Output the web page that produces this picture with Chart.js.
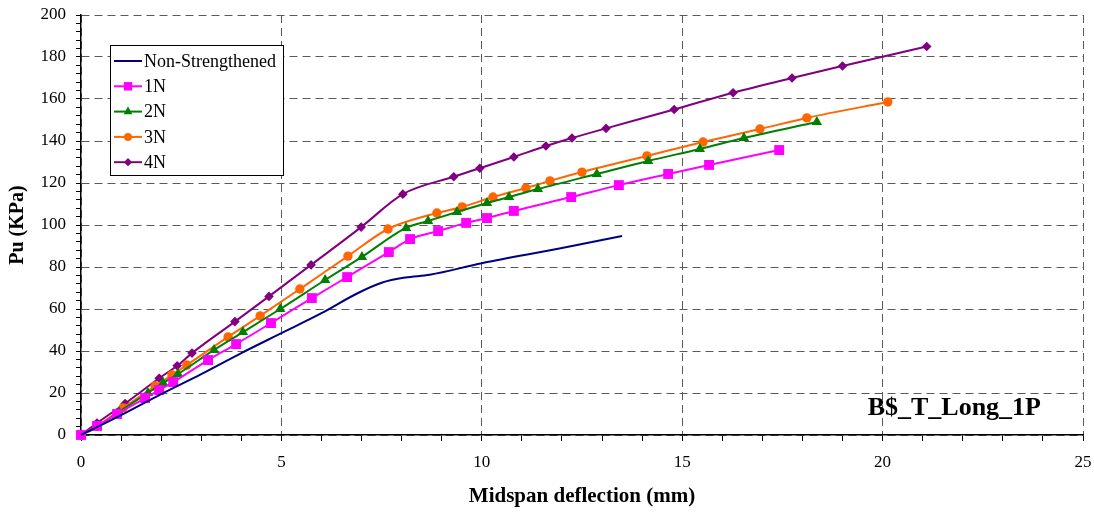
<!DOCTYPE html>
<html>
<head>
<meta charset="utf-8">
<script src="https://cdn.jsdelivr.net/npm/chart.js@4"></script>
<style>
  body { margin: 0; background: #fff; }
  #wrap { width: 1094px; height: 513px; }
</style>
</head>
<body>
<div id="wrap"><canvas id="chart"></canvas></div>
<script>
// Series data: midspan deflection (mm) and Pu (KPa)
const seriesNames = ['Non-Strengthened', '1N', '2N', '3N', '4N'];

const nonX = [0, 1, 2, 3, 4, 5, 6, 6.9, 7.5, 8.1, 8.7, 10, 12, 13.5];
const nonY = [0, 9.5, 19.5, 29, 39, 48.5, 58, 67.5, 72.5, 75, 76.3, 81.8, 89, 94.8];

const n1X = [0, 0.4, 0.9, 1.6, 1.95, 2.3, 3.17, 3.87, 4.74, 5.76, 6.64, 7.68, 8.21, 8.91, 9.61, 10.13, 10.8, 12.23, 13.42, 14.65, 15.67, 17.42];
const n1Y = [0, 4.3, 10, 17.6, 21.4, 25.2, 35.7, 43.3, 53.3, 65.2, 75.2, 87.1, 93.3, 97.1, 101, 103.3, 106.7, 113.3, 119, 124.3, 128.6, 135.7];

const n2X = [0, 0.4, 0.95, 1.67, 2.05, 2.42, 3.32, 4.04, 4.97, 6.09, 7.01, 8.11, 8.66, 9.38, 10.13, 10.68, 11.4, 12.87, 14.15, 15.44, 16.54, 18.36];
const n2Y = [0, 3.8, 11, 20, 24.8, 29, 40.5, 49, 60, 73.8, 84.8, 98.6, 101.9, 106.2, 110.5, 113.3, 117.1, 124.3, 130.5, 136.2, 141.4, 149];

const n3X = [0, 0.4, 1.05, 1.85, 2.27, 2.64, 3.67, 4.47, 5.46, 6.66, 7.66, 8.88, 9.51, 10.28, 11.1, 11.7, 12.5, 14.12, 15.52, 16.94, 18.11, 20.13];
const n3Y = [0, 4.3, 12.9, 23.3, 28.6, 33.3, 46.7, 56.7, 69.5, 85.2, 98.1, 105.7, 108.6, 113.3, 117.6, 121, 125.2, 132.9, 139.5, 145.7, 151, 158.6];

const n4X = [0, 0.4, 1.1, 1.95, 2.4, 2.77, 3.84, 4.69, 5.74, 6.99, 8.03, 9.3, 9.95, 10.8, 11.6, 12.25, 13.1, 14.8, 16.27, 17.74, 19.0, 21.1];
const n4Y = [0, 5.7, 15, 27, 33, 39, 54, 66, 81, 99, 114.7, 123, 127, 132.4, 137.6, 141.4, 146, 155, 163, 170, 175.7, 185];

// Axis ticks
const xMin = 0, xMax = 25, xMinorStep = 1, xMajorStep = 5;
const yMin = 0, yMax = 200, yMinorStep = 4, yMajorStep = 20;

const chartTitle = 'B$_T_Long_1P';

function pts(xs, ys) {
    return xs.map((x, i) => ({ x: x, y: ys[i] }));
}

const serif = "'Liberation Serif', 'Times New Roman', serif";

const datasets = [
    { label: seriesNames[0], data: pts(nonX, nonY), borderColor: '#000080', backgroundColor: '#000080', pointRadius: 0, pointStyle: false },
    { label: seriesNames[1], data: pts(n1X, n1Y), borderColor: '#FF00FF', backgroundColor: '#FF00FF', pointStyle: 'rect', pointRadius: 7 },
    { label: seriesNames[2], data: pts(n2X, n2Y), borderColor: '#008000', backgroundColor: '#008000', pointStyle: 'triangle', pointRadius: 6 },
    { label: seriesNames[3], data: pts(n3X, n3Y), borderColor: '#FF6600', backgroundColor: '#FF6600', pointStyle: 'circle', pointRadius: 4.7 },
    { label: seriesNames[4], data: pts(n4X, n4Y), borderColor: '#800080', backgroundColor: '#800080', pointStyle: 'rectRot', pointRadius: 4.8 }
].map(d => Object.assign({
    borderWidth: 2,
    pointBorderWidth: 0,
    cubicInterpolationMode: 'monotone',
    clip: false
}, d));

// Legend box drawn inside the plot area
const boxLegend = {
    id: 'boxLegend',
    afterDraw(chart) {
        const ctx = chart.ctx;
        const area = chart.chartArea;
        const left = area.left + 29, top = area.top + 30, w = 173, h = 130;
        ctx.save();
        ctx.fillStyle = '#fff';
        ctx.fillRect(left, top, w, h);
        ctx.strokeStyle = '#000';
        ctx.lineWidth = 1;
        ctx.strokeRect(left + 0.5, top + 0.5, w, h);
        ctx.font = '18px ' + serif;
        ctx.textBaseline = 'middle';
        chart.data.datasets.forEach((ds, i) => {
            const y = top + 16 + i * 25.3;
            ctx.strokeStyle = ds.borderColor;
            ctx.lineWidth = 2;
            ctx.beginPath();
            ctx.moveTo(left + 4, y);
            ctx.lineTo(left + 32, y);
            ctx.stroke();
            if (ds.pointStyle && Chart.helpers && Chart.helpers.drawPoint) {
                ctx.fillStyle = ds.backgroundColor;
                Chart.helpers.drawPoint(ctx, { pointStyle: ds.pointStyle, radius: ds.pointRadius * 0.85, rotation: 0, borderWidth: 0 }, left + 18, y);
            }
            ctx.fillStyle = '#000';
            ctx.fillText(ds.label, left + 34, y + 1);
        });
        ctx.restore();
    }
};

// Series tag in the lower right corner
const cornerTag = {
    id: 'cornerTag',
    afterDraw(chart) {
        const ctx = chart.ctx;
        const area = chart.chartArea;
        ctx.save();
        ctx.font = 'bold 26px ' + serif;
        ctx.fillStyle = '#000';
        ctx.textAlign = 'right';
        ctx.textBaseline = 'middle';
        ctx.fillText(chartTitle, area.right - 42, area.bottom - 27);
        ctx.restore();
    }
};

const whiteBg = {
    id: 'whiteBg',
    beforeDraw(chart) {
        const ctx = chart.ctx;
        ctx.save();
        ctx.fillStyle = '#fff';
        ctx.fillRect(0, 0, chart.width, chart.height);
        ctx.restore();
    }
};

function isMajor(v, step) {
    return Math.abs(v / step - Math.round(v / step)) < 1e-6;
}

new Chart(document.getElementById('chart'), {
    type: 'line',
    data: { datasets: datasets },
    plugins: [whiteBg, boxLegend, cornerTag],
    options: {
        responsive: true,
        maintainAspectRatio: false,
        animation: false,
        layout: { padding: { left: 0, right: 11, top: 15, bottom: 0 } },
        plugins: {
            legend: { display: false },
            tooltip: { enabled: false }
        },
        scales: {
            x: {
                type: 'linear',
                min: xMin,
                max: xMax,
                afterFit: s => { s.paddingRight = 0; s.paddingLeft = 0; },
                ticks: {
                    stepSize: xMinorStep,
                    autoSkip: false,
                    maxRotation: 0,
                    padding: 11,
                    color: '#000',
                    font: { family: serif, size: 17 },
                    callback: v => isMajor(v, xMajorStep) ? v : ''
                },
                grid: {
                    color: c => isMajor(c.tick.value, xMajorStep) ? '#5a5a5a' : 'rgba(0,0,0,0)',
                    lineWidth: 1,
                    tickColor: '#000',
                    tickWidth: 1,
                    tickLength: 6
                },
                border: { display: true, color: '#000', width: 1.5, dash: [8, 5] },
                title: {
                    display: true,
                    text: 'Midspan deflection (mm)',
                    color: '#000',
                    font: { family: serif, size: 21, weight: 'bold' },
                    padding: { top: 1, bottom: 3.4 }
                }
            },
            y: {
                type: 'linear',
                min: yMin,
                max: yMax,
                afterFit: s => { s.paddingTop = 0; s.paddingBottom = 0; },
                ticks: {
                    stepSize: yMinorStep,
                    autoSkip: false,
                    padding: 10,
                    color: '#000',
                    font: { family: serif, size: 17 },
                    callback: v => isMajor(v, yMajorStep) ? v : ''
                },
                grid: {
                    color: c => isMajor(c.tick.value, yMajorStep) ? '#5a5a5a' : 'rgba(0,0,0,0)',
                    lineWidth: 1,
                    tickColor: '#000',
                    tickWidth: 1,
                    tickLength: 5
                },
                border: { display: true, color: '#000', width: 1.5, dash: [8, 5] },
                title: {
                    display: true,
                    text: 'Pu (KPa)',
                    color: '#000',
                    font: { family: serif, size: 20, weight: 'bold' },
                    padding: { top: 6, bottom: 0.5 }
                }
            }
        }
    }
});
</script>
</body>
</html>
